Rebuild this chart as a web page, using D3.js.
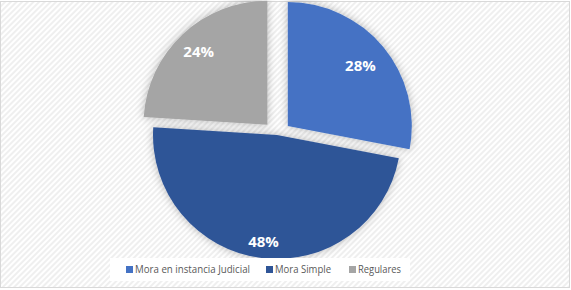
<!DOCTYPE html>
<html>
<head>
<meta charset="utf-8">
<script src="https://cdn.jsdelivr.net/npm/d3@7"></script>
<style>
  html, body { margin: 0; padding: 0; background: #fff; }
  svg { display: block; }
</style>
</head>
<body>
<svg id="chart"></svg>
<script>
const categories = ['Mora en instancia Judicial', 'Mora Simple', 'Regulares'];
const values = [28, 48, 24];
const colors = ['#4472C4', '#2F5597', '#A5A5A5'];
const explode = [14, 0, 14];

const width = 571;
const height = 290;
const radius = 124;
const center = { x: 277, y: 135 };
const labelRatio = [0.76, 0.87, 0.81];

const svg = d3.select('#chart')
  .attr('width', width)
  .attr('height', height);

const defs = svg.append('defs');

const pattern = defs.append('pattern')
  .attr('id', 'stripes')
  .attr('patternUnits', 'userSpaceOnUse')
  .attr('width', 4)
  .attr('height', 4)
  .attr('patternTransform', 'rotate(45)');
pattern.append('rect')
  .attr('width', 4).attr('height', 4).attr('fill', '#fff');
pattern.append('rect')
  .attr('width', 2).attr('height', 4).attr('fill', '#efefef');

const shadow = defs.append('filter')
  .attr('id', 'shadow')
  .attr('x', '-20%').attr('y', '-20%')
  .attr('width', '140%').attr('height', '140%');
shadow.append('feDropShadow')
  .attr('dx', 0).attr('dy', 0)
  .attr('stdDeviation', 4)
  .attr('flood-color', '#000')
  .attr('flood-opacity', 0.28);

svg.append('rect')
  .attr('x', 0.5).attr('y', 1.5)
  .attr('width', width - 2).attr('height', height - 4)
  .attr('fill', 'url(#stripes)')
  .attr('stroke', '#d9d9d9')
  .attr('stroke-width', 1);

const pie = d3.pie().sort(null).value(d => d);
const arcs = pie(values);

const arc = d3.arc().innerRadius(0).outerRadius(radius);

const offset = (d, i) => {
  const a = (d.startAngle + d.endAngle) / 2;
  return [center.x + explode[i] * Math.sin(a), center.y - explode[i] * Math.cos(a)];
};

const slices = svg.append('g')
  .selectAll('g')
  .data(arcs)
  .join('g')
  .attr('transform', (d, i) => `translate(${offset(d, i)})`);

slices.append('path')
  .attr('d', arc)
  .attr('fill', (d, i) => colors[i])
  .attr('filter', 'url(#shadow)');

slices.append('text')
  .attr('transform', (d, i) => {
    const a = (d.startAngle + d.endAngle) / 2;
    const r = radius * labelRatio[i];
    return `translate(${r * Math.sin(a)},${-r * Math.cos(a)})`;
  })
  .attr('text-anchor', 'middle')
  .attr('dy', '0.35em')
  .attr('fill', '#fff')
  .attr('font-family', '"Open Sans", sans-serif')
  .attr('font-weight', 'bold')
  .attr('font-size', 15)
  .text(d => d.value + '%');

// legend
const legend = svg.append('g');
legend.append('rect')
  .attr('x', 110).attr('y', 258)
  .attr('width', 300).attr('height', 23)
  .attr('fill', '#fff');

const legendPos = [126, 266, 349];
const legendTextWidth = [115, 56, 43];

const items = legend.selectAll('g')
  .data(categories)
  .join('g')
  .attr('transform', (d, i) => `translate(${legendPos[i]},269.5)`);

items.append('rect')
  .attr('x', 0).attr('y', -3.5)
  .attr('width', 7).attr('height', 7)
  .attr('fill', (d, i) => colors[i]);

items.append('text')
  .attr('x', 9)
  .attr('dy', '0.35em')
  .attr('fill', '#595959')
  .attr('font-family', '"Open Sans", sans-serif')
  .attr('font-size', 11)
  .attr('textLength', (d, i) => legendTextWidth[i])
  .attr('lengthAdjust', 'spacingAndGlyphs')
  .text(d => d);
</script>
</body>
</html>
